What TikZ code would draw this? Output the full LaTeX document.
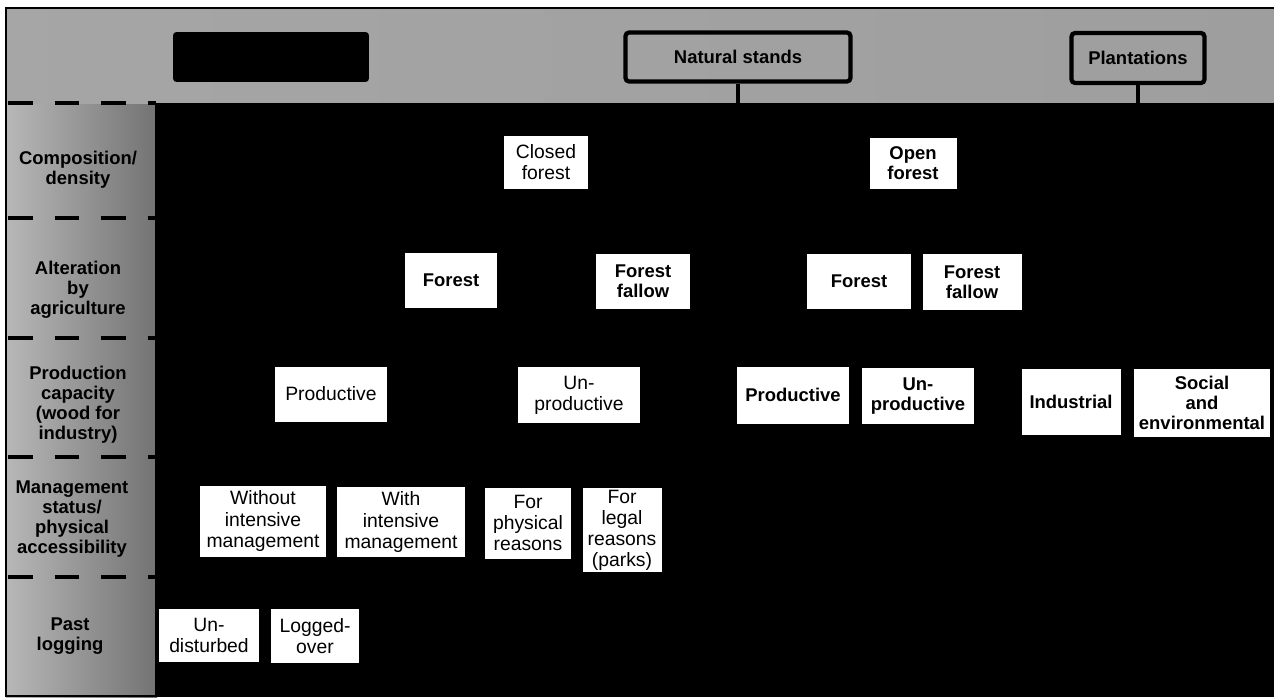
\documentclass[tikz,border=0pt]{standalone}
\usepackage{fontspec}
\setmainfont{Liberation Sans}
\begin{document}
\begin{tikzpicture}[x=0.02cm, y=-0.02cm,
        leaf/.style={fill=white, inner sep=0pt, align=center,
            font=\fontsize{11}{12}\selectfont},
        leafbold/.style={leaf, font=\fontsize{10.5}{11.5}\selectfont\bfseries},
        rowlabel/.style={align=center, inner sep=0pt,
            font=\fontsize{10.5}{11.3}\selectfont\bfseries},
        headbox/.style={draw, line width=2.4pt, rounded corners=2pt, inner sep=0pt,
            font=\fontsize{10.5}{12}\selectfont\bfseries}]
                \useasboundingbox (0,0) rectangle (1274,697);
                \fill[white] (0,0) rectangle (1274,697);
                \shade[left color=black!28, right color=black!55]
                    (6,103) rectangle (157,697);
                \shade[left color=black!35, middle color=black!68, right color=black!38]
                    (6,8) rectangle (1274,103);
                \fill[black] (155,103) rectangle (1274,697);
                \draw[line width=1.5pt]
                    (1274,8) -- (6,8) -- (6,696) -- (155,696);
                \foreach \y in {103,218,338,457,577}
                    \draw[line width=2.2pt, dash pattern=on 14pt off 12.5pt]
                        (8,\y) -- (156,\y);

                \node[fill=black, rounded corners=2pt, minimum width=3.92cm,
                    minimum height=1cm] (blank) at (271,57) {};
                \node[headbox, minimum width=4.5cm, minimum height=0.98cm]
                    (natural) at (738,57) {Natural stands};
                \node[headbox, minimum width=2.66cm, minimum height=1cm]
                    (plant) at (1138,58) {Plantations};
                \coordinate (band) at (0,103);
                \draw[line width=2pt]
                    (natural.south) -- (natural.south |- band);
                \draw[line width=2pt]
                    (plant.south) -- (plant.south |- band);

                \node[rowlabel] (comp) at (78,170) {Composition/\\density};
                \node[rowlabel] (alter) at (78,290) {Alteration\\by\\agriculture};
                \node[rowlabel] (capacity) at (78,405)
                    {Production\\capacity\\(wood for\\industry)};
                \node[rowlabel] (manage) at (72,519)
                    {Management\\status/\\physical\\accessibility};
                \node[rowlabel] (past) at (70,636) {Past\\logging};

                \node[leaf, minimum width=1.70cm, minimum height=1.06cm]
                    (closed) at (546,162) {Closed\\forest};
                \node[leafbold, minimum width=1.74cm, minimum height=1.02cm]
                    (open) at (913,163) {Open\\forest};

                \node[leafbold, minimum width=1.86cm, minimum height=1.10cm]
                    (cforest) at (451,280) {Forest};
                \node[leafbold, minimum width=1.88cm, minimum height=1.10cm]
                    (cfallow) at (643,281) {Forest\\fallow};
                \node[leafbold, minimum width=2.08cm, minimum height=1.10cm]
                    (oforest) at (859,281) {Forest};
                \node[leafbold, minimum width=1.98cm, minimum height=1.12cm]
                    (ofallow) at (972,282) {Forest\\fallow};

                \node[leaf, minimum width=2.24cm, minimum height=1.10cm]
                    (cprod) at (331,394) {Productive};
                \node[leaf, minimum width=2.44cm, minimum height=1.12cm]
                    (cunprod) at (579,395) {Un-\\productive};
                \node[leafbold, minimum width=2.24cm, minimum height=1.14cm]
                    (oprod) at (793,395) {Productive};
                \node[leafbold, minimum width=2.24cm, minimum height=1.12cm]
                    (ounprod) at (918,396) {Un-\\productive};
                \node[leafbold, minimum width=1.98cm, minimum height=1.32cm]
                    (industrial) at (1071,402) {Industrial};
                \node[leafbold, minimum width=2.72cm, minimum height=1.36cm]
                    (social) at (1202,403) {Social\\and\\environmental};

                \node[leaf, minimum width=2.54cm, minimum height=1.42cm]
                    (without) at (263,521) {Without\\intensive\\management};
                \node[leaf, minimum width=2.58cm, minimum height=1.40cm]
                    (with) at (401,522) {With\\intensive\\management};
                \node[leaf, minimum width=1.74cm, minimum height=1.42cm]
                    (physical) at (528,523) {For\\physical\\reasons};
                \node[leaf, minimum width=1.58cm, minimum height=1.68cm]
                    (legal) at (622,530) {For\\legal\\reasons\\(parks)};

                \node[leaf, minimum width=2.02cm, minimum height=1.06cm]
                    (undisturbed) at (209,635) {Un-\\disturbed};
                \node[leaf, minimum width=1.78cm, minimum height=1.08cm]
                    (logged) at (315,636) {Logged-\\over};
            \end{tikzpicture}
\end{document}
